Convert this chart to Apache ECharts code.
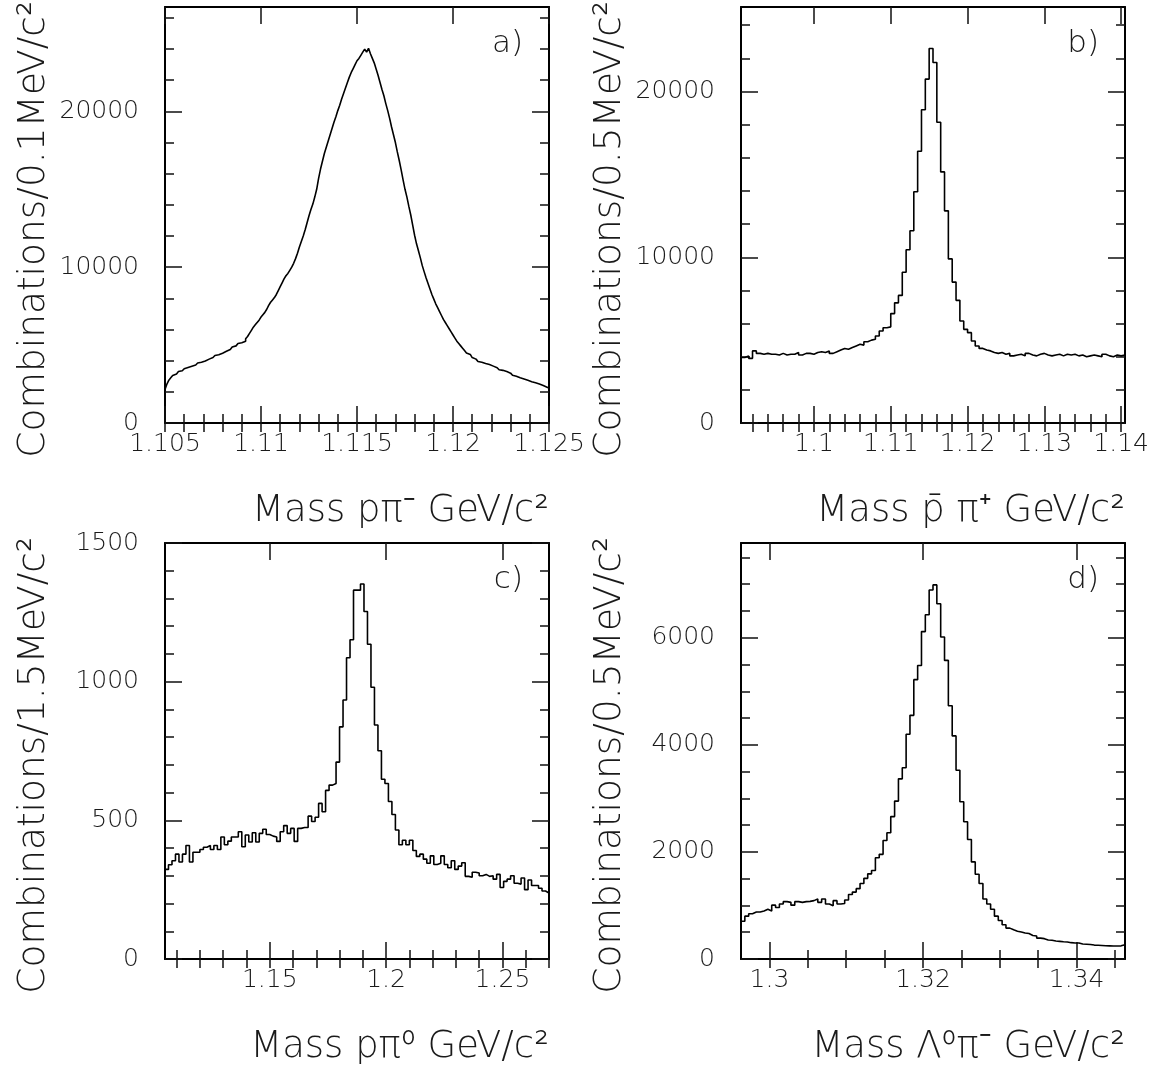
<!DOCTYPE html>
<html><head><meta charset="utf-8">
<script src="https://cdn.jsdelivr.net/npm/echarts@6/dist/echarts.min.js"></script>
<style>html,body{margin:0;padding:0;background:#fff}#chart{width:1157px;height:1068px}</style>
</head><body><div id="chart"></div>
<script>
// ---------- Panel a : p pi- , 0.1 MeV bins ----------
const aBinStart = 1.105, aBinWidth = 0.0001;
const aCounts = [
 2150,2500,2750,2900,3050,3150,3200,3300,3350,3420,
 3480,3560,3600,3640,3700,3720,3780,3850,3900,3940,
 3980,4050,4100,4180,4200,4260,4330,4380,4420,4480,
 4550,4600,4680,4720,4800,4880,4950,5050,5100,5150,
 5120,5250,5400,5550,5750,5950,6150,6300,6450,6600,
 6800,6950,7100,7300,7550,7750,7900,8050,8250,8500,
 8750,9000,9250,9450,9600,9800,10000,10250,10550,10900,
 11300,11650,12000,12400,12850,13300,13700,14050,14500,15000,
 15700,16300,16800,17300,17700,18100,18500,18900,19300,19650,
 20050,20400,20800,21150,21500,21850,22200,22500,22750,23000,
 23250,23400,23600,23800,24000,23800,24050,23700,23400,23100,
 22700,22300,21850,21400,21000,20500,20050,19550,19000,18500,
 18000,17400,16850,16250,15600,15000,14500,13900,13350,12700,
 12050,11500,11050,10600,10100,9700,9300,8950,8600,8250,
 7950,7650,7400,7150,6900,6650,6450,6250,6050,5850,
 5650,5450,5250,5100,4950,4800,4650,4500,4400,4300,
 4200,4100,4000,3950,3900,3850,3820,3780,3750,3700,
 3650,3600,3550,3480,3420,3380,3350,3300,3250,3200,
 3120,3060,3000,2950,2900,2860,2820,2780,2740,2700,
 2650,2620,2580,2550,2500,2450,2400,2350,2300,2250];
const aXRange = [1.105, 1.125];
const aYMax = 26700;
const aXMajor = [1.105, 1.11, 1.115, 1.12, 1.125];
const aXMinorStep = 0.001;
const aYMajor = [0, 10000, 20000];
const aYMinorStep = 2000;
const aYTitle = 'Combinations/0.1MeV/c²';
const aXTitle = 'Mass pπ⁻ GeV/c²';

// ---------- Panel b : pbar pi+ , 0.5 MeV bins ----------
const bBinStart = 1.0905, bBinWidth = 0.0005;
const bCounts = [
 3950,4050,3900,4350,4200,4150,4200,4150,4150,4100,4200,4100,4150,4150,4250,4100,4200,4200,4150,4250,4300,4250,4350,4200,4300,
 4400,4500,4450,4550,4650,4750,4700,4900,5000,5050,
 5250,5550,5750,5800,6600,7250,7700,9100,10450,11600,13950,16400,18900,20750,22600,21750,18150,15150,12800,9900,8500,7400,6150,5650,5450,4950,4650,4500,4400,4350,
 4250,4200,4250,4150,4200,4050,4100,4150,4050,4200,4100,4050,4150,4200,4100,4050,4100,4150,4050,4150,4100,4150,4050,4100,4000,4050,4100,4050,4000,4150,4050,4000,4100,4050,4100];
const bXRange = [1.0905, 1.1405];
const bYMax = 25100;
const bXMajor = [1.1, 1.11, 1.12, 1.13, 1.14];
const bXMinorStep = 0.002;
const bYMajor = [0, 10000, 20000];
const bYMinorStep = 2000;
const bYTitle = 'Combinations/0.5MeV/c²';
const bXTitle = 'Mass p̄ π⁺ GeV/c²';

// ---------- Panel c : p pi0 , 1.5 MeV bins ----------
const cBinStart = 1.105, cBinWidth = 0.0015;
const cCounts = [
 323,340,354,378,350,378,409,350,385,385,395,403,409,395,409,395,440,412,425,440,
 440,459,405,447,422,455,422,453,468,449,443,440,424,459,481,453,471,424,471,474,
 474,515,496,511,561,531,608,627,633,
 710,837,934,1086,1151,1330,1330,1352,
 1253,1135,980,844,751,648,633,568,521,465,412,428,
 412,428,391,370,378,360,345,372,341,345,372,341,329,354,323,335,347,298,295,313,
 310,300,305,298,300,288,305,258,280,288,300,273,270,292,250,285,265,265,255,245,238];
const cXRange = [1.105, 1.27];
const cYMax = 1500;
const cXMajor = [1.15, 1.2, 1.25];
const cXMinorStep = 0.01;
const cYMajor = [0, 500, 1000, 1500];
const cYMinorStep = 100;
const cYTitle = 'Combinations/1.5MeV/c²';
const cXTitle = 'Mass pπ⁰ GeV/c²';

// ---------- Panel d : Lambda pi- , 0.5 MeV bins ----------
const dBinStart = 1.2963, dBinWidth = 0.0005;
const dCounts = [
 705,800,846,878,878,897,929,897,1006,962,1026,1071,1058,1006,1071,1058,1071,1077,1090,1122,1058,1122,1026,994,1090,1026,1038,
 1103,1205,1250,1314,1410,1506,1590,1654,1891,1955,2212,2359,2660,2949,3365,3571,4199,4551,5218,5481,6115,6429,6891,6987,
 6635,6013,5577,4731,4167,3526,2936,2564,2231,1814,1583,1410,1122,1026,929,800,718,641,577,545,
 520,505,485,475,440,430,390,380,355,350,335,330,322,318,305,300,298,280,276,272,260,256,252,248,245,242,244,246,265];
const dXRange = [1.2963, 1.3463];
const dYMax = 7770;
const dXMajor = [1.3, 1.32, 1.34];
const dXMinorStep = 0.005;
const dYMajor = [0, 2000, 4000, 6000];
const dYMinorStep = 500;
const dYTitle = 'Combinations/0.5MeV/c²';
const dXTitle = 'Mass Λ⁰π⁻ GeV/c²';

const panelLetters = ['a)', 'b)', 'c)', 'd)'];

// ---------- layout ----------
const FONT = 'DejaVu Sans';
const TXT = '#1a1a1a';
const grids = [
  {left:165, top:7,   width:384, height:416},
  {left:741, top:7,   width:384, height:416},
  {left:165, top:543, width:384, height:416},
  {left:741, top:543, width:384, height:416}
];
const panels = [
  {counts:aCounts, start:aBinStart, width:aBinWidth, xr:aXRange, ymax:aYMax, xMaj:aXMajor, xMin:aXMinorStep, yMaj:aYMajor, yMin:aYMinorStep, yt:aYTitle, xt:aXTitle},
  {counts:bCounts, start:bBinStart, width:bBinWidth, xr:bXRange, ymax:bYMax, xMaj:bXMajor, xMin:bXMinorStep, yMaj:bYMajor, yMin:bYMinorStep, yt:bYTitle, xt:bXTitle},
  {counts:cCounts, start:cBinStart, width:cBinWidth, xr:cXRange, ymax:cYMax, xMaj:cXMajor, xMin:cXMinorStep, yMaj:cYMajor, yMin:cYMinorStep, yt:cYTitle, xt:cXTitle},
  {counts:dCounts, start:dBinStart, width:dBinWidth, xr:dXRange, ymax:dYMax, xMaj:dXMajor, xMin:dXMinorStep, yMaj:dYMajor, yMin:dYMinorStep, yt:dYTitle, xt:dXTitle}
];

function stepValues(lo, hi, step) {
  const out = [];
  for (let k = Math.ceil(lo / step - 1e-6); k * step <= hi + 1e-9; k++) {
    const v = +(k * step).toFixed(6);
    if (v >= lo - 1e-9 && v <= hi + 1e-9) out.push(v);
  }
  return out;
}

const option = {animation:false, backgroundColor:'#fff', grid:[], xAxis:[], yAxis:[], series:[], graphic:[]};
const tickStyle = {color:'#111', width:1.5};
const frameStyle = {color:'#000', width:2};
const labelStyle = {fontFamily:FONT, fontWeight:200, fontSize:25, color:TXT};

panels.forEach((p, g) => {
  option.grid.push(Object.assign({containLabel:false}, grids[g]));
  const xMinor = stepValues(p.xr[0], p.xr[1], p.xMin);
  const yMinor = stepValues(0, p.ymax, p.yMin);
  const xBase = {type:'value', gridIndex:g, min:p.xr[0], max:p.xr[1], splitLine:{show:false}};
  const yBase = {type:'value', gridIndex:g, min:0, max:p.ymax, splitLine:{show:false}};
  const xi = option.xAxis.length, yi = option.yAxis.length;
  // x axes: bottom major (labels), bottom minor, top major, top minor
  option.xAxis.push(Object.assign({}, xBase, {position:'bottom',
    axisLine:{show:true, onZero:false, lineStyle:frameStyle},
    axisTick:{show:true, inside:true, length:17, customValues:p.xMaj, lineStyle:tickStyle},
    axisLabel:Object.assign({show:true, customValues:p.xMaj, margin:9, showMinLabel:true, showMaxLabel:true, hideOverlap:false,
      formatter:v => String(v)}, labelStyle)}));
  option.xAxis.push(Object.assign({}, xBase, {position:'bottom',
    axisLine:{show:false}, axisLabel:{show:false},
    axisTick:{show:true, inside:true, length:9, customValues:xMinor, lineStyle:tickStyle}}));
  option.xAxis.push(Object.assign({}, xBase, {position:'top',
    axisLine:{show:true, onZero:false, lineStyle:frameStyle}, axisLabel:{show:false},
    axisTick:{show:true, inside:true, length:17, customValues:p.xMaj, lineStyle:tickStyle}}));
  option.xAxis.push(Object.assign({}, xBase, {position:'top',
    axisLine:{show:false}, axisLabel:{show:false},
    axisTick:{show:true, inside:true, length:9, customValues:xMinor, lineStyle:tickStyle}}));
  // y axes: left major (labels), left minor, right major, right minor
  option.yAxis.push(Object.assign({}, yBase, {position:'left',
    axisLine:{show:true, onZero:false, lineStyle:frameStyle},
    axisTick:{show:true, inside:true, length:17, customValues:p.yMaj, lineStyle:tickStyle},
    axisLabel:Object.assign({show:true, customValues:p.yMaj, margin:26, showMinLabel:true, showMaxLabel:true, hideOverlap:false,
      formatter:v => String(v)}, labelStyle)}));
  option.yAxis.push(Object.assign({}, yBase, {position:'left',
    axisLine:{show:false}, axisLabel:{show:false},
    axisTick:{show:true, inside:true, length:9, customValues:yMinor, lineStyle:tickStyle}}));
  option.yAxis.push(Object.assign({}, yBase, {position:'right',
    axisLine:{show:true, onZero:false, lineStyle:frameStyle}, axisLabel:{show:false},
    axisTick:{show:true, inside:true, length:17, customValues:p.yMaj, lineStyle:tickStyle}}));
  option.yAxis.push(Object.assign({}, yBase, {position:'right',
    axisLine:{show:false}, axisLabel:{show:false},
    axisTick:{show:true, inside:true, length:9, customValues:yMinor, lineStyle:tickStyle}}));

  const pts = p.counts.map((v, i) => [+(p.start + i * p.width).toFixed(6), v]);
  pts.push([+(p.start + p.counts.length * p.width).toFixed(6), p.counts[p.counts.length - 1]]);
  option.series.push({type:'line', step:'end', xAxisIndex:xi, yAxisIndex:yi, data:pts,
    showSymbol:false, symbol:'none', clip:true, lineStyle:{color:'#000', width:1.6}, silent:true});

  const gr = grids[g];
  // y title (rotated), ends just above the frame top
  option.graphic.push({type:'text', x:gr.left - 131, y:gr.top - 6, rotation:Math.PI / 2,
    style:{text:p.yt, font:'200 37.5px "' + FONT + '"', fill:TXT, textAlign:'right', textVerticalAlign:'middle'}});
  // x title, right-aligned to the frame
  option.graphic.push({type:'text', x:gr.left + gr.width, y:gr.top + gr.height + 88,
    style:{text:p.xt, font:'200 37px "' + FONT + '"', fill:TXT, textAlign:'right', textVerticalAlign:'middle'}});
  // panel letter
  option.graphic.push({type:'text', x:gr.left + gr.width - 26, y:gr.top + 37,
    style:{text:panelLetters[g], font:'200 31px "' + FONT + '"', fill:TXT, textAlign:'right', textVerticalAlign:'middle'}});
});

const chart = echarts.init(document.getElementById('chart'), null, {renderer:'canvas'});
chart.setOption(option);
</script>
</body></html>
